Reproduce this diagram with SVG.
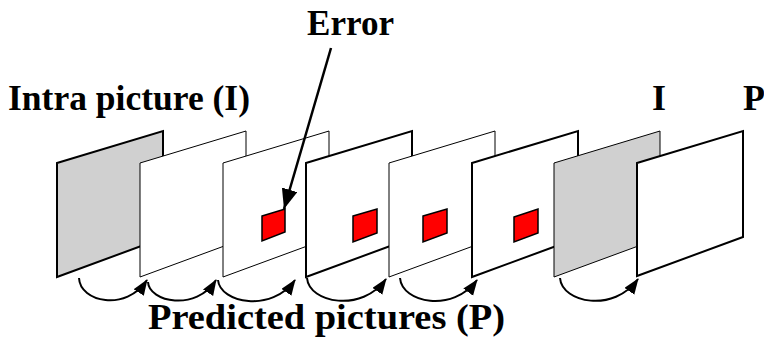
<svg xmlns="http://www.w3.org/2000/svg" width="764" height="338" viewBox="0 0 764 338">
<defs>
<style>
.lbl{font-family:"Liberation Serif","Times New Roman",serif;font-weight:bold;font-size:36px;fill:#000}
.thick{stroke:#000;stroke-width:2;stroke-linejoin:miter}
.thin{stroke:#000;stroke-width:1}
.gray{fill:#d0d0d0}
.white{fill:#fff}
.err{fill:#ff0000;stroke:#000;stroke-width:1.5}
.arc{fill:none;stroke:#000;stroke-width:2}
</style>
<marker id="ah" markerUnits="userSpaceOnUse" markerWidth="18" markerHeight="14" refX="15" refY="6" orient="auto">
<path d="M0,0 L16,6 L0,12 Z" fill="#000"/>
</marker>
<marker id="ah2" markerUnits="userSpaceOnUse" markerWidth="22" markerHeight="18" refX="20" refY="8" orient="auto">
<path d="M0,0 L20,8 L0,16 Z" fill="#000"/>
</marker>
</defs>
<rect width="764" height="338" fill="#fff"/>
<g id="frame1"><path class="gray thick" d="M57,163 L163,131 L163,238 L57,277 Z"/></g>
<g id="frame2"><path class="white thin" d="M140,163 L246,131 L246,238 L140,277 Z"/></g>
<g id="frame3"><path class="white thin" d="M223,163 L329,131 L329,238 L223,277 Z"/><path class="err" d="M262,216 L285,209 L285,232 L262,241 Z"/></g>
<g id="frame4"><path class="white thick" d="M306,163 L412,131 L412,238 L306,277 Z"/><path class="err" d="M353,216 L377,209 L377,233 L353,242 Z"/></g>
<g id="frame5"><path class="white thin" d="M389,163 L495,131 L495,238 L389,277 Z"/><path class="err" d="M423,216 L447,209 L447,233 L423,242 Z"/></g>
<g id="frame6"><path class="white thick" d="M472,163 L578,131 L578,238 L472,277 Z"/><path class="err" d="M514,217 L538,209 L538,233 L514,242 Z"/></g>
<g id="frame7"><path class="gray thin" d="M554,163 L660,131 L660,238 L554,277 Z"/></g>
<g id="frame8"><path class="white thick" d="M637,163 L743,131 L743,237 L637,276 Z"/></g>
<g id="connectors">
<path class="arc" marker-end="url(#ah)" d="M79,278 C80,302 126,312 147,280"/>
<path class="arc" marker-end="url(#ah)" d="M148,282 C149,302 196,312 216,280"/>
<path class="arc" marker-end="url(#ah)" d="M218,280 C220,303 272,313 295,280"/>
<path class="arc" marker-end="url(#ah)" d="M307,278 C309,303 362,313 386,279"/>
<path class="arc" marker-end="url(#ah)" d="M400,278 C402,303 453,313 477,280"/>
<path class="arc" marker-end="url(#ah)" d="M560,278 C562,303 614,313 638,279"/>
<line x1="331" y1="48" x2="284" y2="209" stroke="#000" stroke-width="2.5" marker-end="url(#ah2)"/>
</g>
<g id="labels">
<text class="lbl" x="307" y="35" textLength="87" lengthAdjust="spacingAndGlyphs">Error</text>
<text class="lbl" x="8" y="110" textLength="242" lengthAdjust="spacingAndGlyphs">Intra picture (I)</text>
<text class="lbl" x="659" y="110" text-anchor="middle">I</text>
<text class="lbl" x="754" y="110" text-anchor="middle">P</text>
<text class="lbl" x="148" y="329" textLength="357" lengthAdjust="spacingAndGlyphs">Predicted pictures (P)</text>
</g>
</svg>
